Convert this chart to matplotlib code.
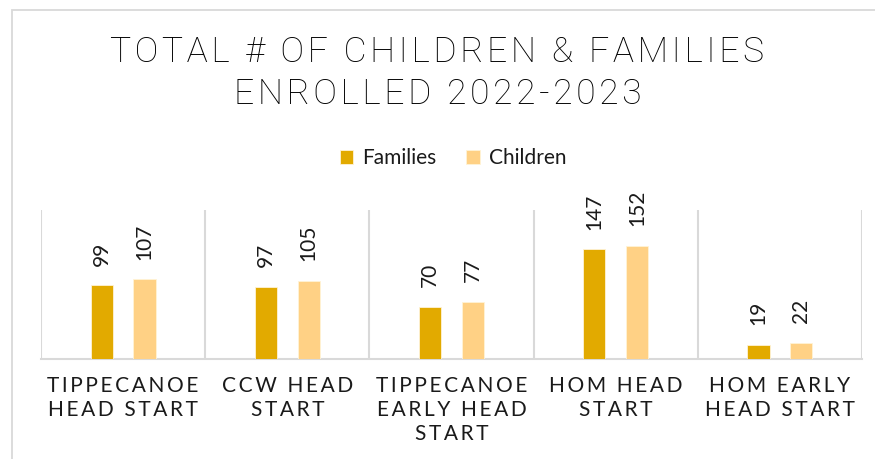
import matplotlib
matplotlib.use("Agg")
import matplotlib.pyplot as plt
from matplotlib.patches import Rectangle
import numpy as np

categories = ["TIPPECANOE\nHEAD START", "CCW HEAD\nSTART", "TIPPECANOE\nEARLY HEAD\nSTART",
              "HOM HEAD\nSTART", "HOM EARLY\nHEAD START"]
families = [99, 97, 70, 147, 19]
children = [107, 105, 77, 152, 22]
series_names = ["Families", "Children"]
title = "TOTAL # OF CHILDREN & FAMILIES\nENROLLED 2022-2023"

C_FAM = "#E2AA00"
C_CHI = "#FFD185"
GRID = "#D9D9D9"
FONT = ["Lato", "DejaVu Sans"]
TFONT = ["Roboto", "DejaVu Sans"]


def spaced(s, sep="\u2009"):
    return "\n".join(sep.join(line) for line in s.split("\n"))


W, H = 875, 459
fig = plt.figure(figsize=(W / 100, H / 100), dpi=100)
fig.patch.set_facecolor("white")

# chart frame
fig.add_artist(Rectangle((12 / W, -0.1), 2, 1 - 10 / H + 0.1, transform=fig.transFigure,
                         fill=False, edgecolor=GRID, linewidth=1.3))

ax = fig.add_axes([41 / W, 1 - 359 / H, (862 - 41) / W, (359 - 210) / H])
x = np.arange(len(categories))
bw = 0.135
off = 0.13
ax.bar(x - off, families, bw, color=C_FAM, edgecolor="#FFF3D6", linewidth=0.6, label=series_names[0], zorder=3)
ax.bar(x + off, children, bw, color=C_CHI, edgecolor="#FFF3D6", linewidth=0.6, label=series_names[1], zorder=3)

ax.set_xlim(-0.5, len(categories) - 0.5)
ax.set_ylim(0, 200)
ax.set_yticks([])
ax.set_xticks(x)
ax.set_xticklabels([spaced(c) for c in categories], fontsize=15, family=FONT,
                   linespacing=1.25, color="#1a1a1a")
ax.tick_params(axis="x", length=0, pad=12)
for s in ["top", "right", "left"]:
    ax.spines[s].set_visible(False)
ax.spines["bottom"].set_color(GRID)
ax.spines["bottom"].set_linewidth(1.5)
for b in np.arange(-0.5, len(categories), 1.0):
    ax.axvline(b, color=GRID, linewidth=1.5, zorder=1)

for xs, vals in ((x - off, families), (x + off, children)):
    for xi, v in zip(xs, vals):
        ax.annotate(str(v), (xi, v), xytext=(0, 14), textcoords="offset points", rotation=90,
                    ha="center", va="bottom", fontsize=15, family=FONT, color="#1a1a1a")

fig.text(0.5, 1 - 73 / H, spaced(title, "\u200a"), ha="center", va="center", fontsize=25.5,
         family=TFONT, fontweight="light", linespacing=1.32, color="#000000")

leg = fig.legend(loc="center", bbox_to_anchor=(453 / W, 1 - 158 / H), ncol=2, frameon=False,
                 prop={"family": FONT, "size": 15}, handlelength=0.65, handleheight=0.65,
                 columnspacing=1.4, handletextpad=0.45)
for t in leg.get_texts():
    t.set_color("#1a1a1a")

fig.savefig("out.png", dpi=100, facecolor="white")
